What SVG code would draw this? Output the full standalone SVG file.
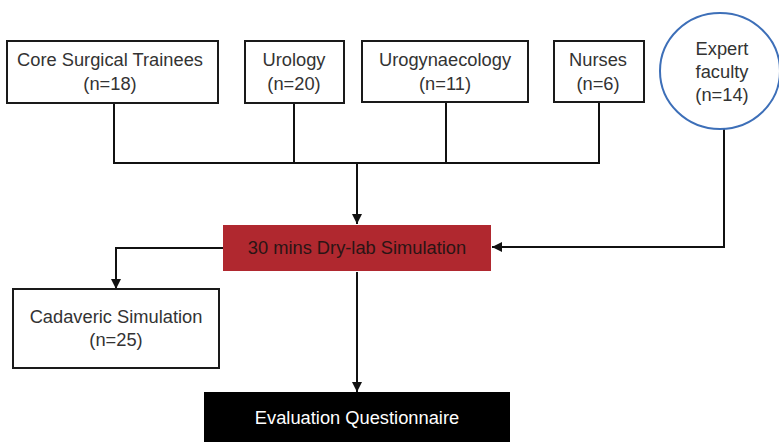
<svg xmlns="http://www.w3.org/2000/svg" width="779" height="442" viewBox="0 0 779 442">
<style>
.box{fill:#fff;stroke:#1a1a1a;stroke-width:2}
.t{font-family:"Liberation Sans",Arial,sans-serif;font-size:18.3px;fill:#333;text-anchor:middle}
.ln{fill:none;stroke:#111;stroke-width:2}
</style>
<defs>
<marker id="ah" viewBox="0 0 10 10" refX="10" refY="5" markerWidth="10" markerHeight="10" markerUnits="userSpaceOnUse" orient="auto">
<path d="M0,0 L10,5 L0,10 Z" fill="#111"/>
</marker>
</defs>
<rect width="779" height="442" fill="#fff"/>
<g id="connectors">
<path class="ln" d="M114,103 V163 H599 V102"/>
<path class="ln" d="M294,103 V163"/>
<path class="ln" d="M446,102 V163"/>
<path class="ln" d="M357,163 V224" marker-end="url(#ah)"/>
<path class="ln" d="M724,129 V247 H492" marker-end="url(#ah)"/>
<path class="ln" d="M223,248 H116 V289" marker-end="url(#ah)"/>
<path class="ln" d="M357,272 V392" marker-end="url(#ah)"/>
</g>
<g id="core">
<rect class="box" x="7" y="41" width="211" height="62"/>
<text class="t" x="110" y="66">Core Surgical Trainees</text>
<text class="t" x="110" y="90">(n=18)</text>
</g>
<g id="urology">
<rect class="box" x="245" y="41" width="99" height="62"/>
<text class="t" x="294" y="66">Urology</text>
<text class="t" x="294" y="90">(n=20)</text>
</g>
<g id="urogyn">
<rect class="box" x="362" y="41" width="166" height="61"/>
<text class="t" x="445" y="66">Urogynaecology</text>
<text class="t" x="445" y="90">(n=11)</text>
</g>
<g id="nurses">
<rect class="box" x="554" y="41" width="90" height="61"/>
<text class="t" x="598" y="66">Nurses</text>
<text class="t" x="598" y="90">(n=6)</text>
</g>
<g id="expert">
<ellipse cx="720" cy="71" rx="60" ry="58" fill="#fff" stroke="#3d6fb8" stroke-width="2"/>
<text class="t" x="722" y="55">Expert</text>
<text class="t" x="722" y="78">faculty</text>
<text class="t" x="722" y="101">(n=14)</text>
</g>
<g id="drylab">
<rect x="223" y="225" width="268" height="46" fill="#b0282f"/>
<text class="t" x="357" y="254" style="fill:#2a1515">30 mins Dry-lab Simulation</text>
</g>
<g id="cadaveric">
<rect class="box" x="13" y="289" width="206" height="79"/>
<text class="t" x="116" y="323">Cadaveric Simulation</text>
<text class="t" x="116" y="346">(n=25)</text>
</g>
<g id="evaluation">
<rect x="204" y="392" width="306" height="52" fill="#000"/>
<text class="t" x="357" y="424" style="fill:#fff">Evaluation Questionnaire</text>
</g>
</svg>
